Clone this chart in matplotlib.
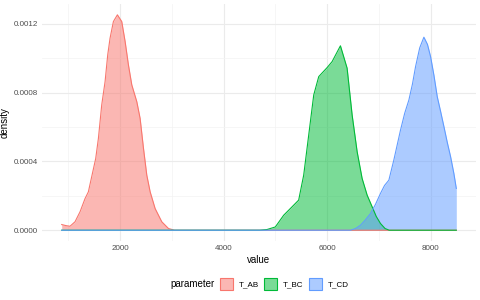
import matplotlib
matplotlib.use("Agg")
import matplotlib.pyplot as plt
from matplotlib.patches import Patch
from matplotlib.colors import to_rgba

plt.rcParams['font.family'] = ['Liberation Sans', 'DejaVu Sans']

# density curves (value, density)
ab_value = [872, 950, 1032, 1129, 1226, 1323, 1387, 1529, 1581, 1645, 1710, 1761,
            1806, 1871, 1948, 2032, 2097, 2161, 2226, 2323, 2387, 2452, 2516, 2581,
            2677, 2806, 2935, 3050, 8497]
ab_density = [0.000033, 0.000027, 0.000023, 0.000049, 0.000107, 0.000184, 0.000223,
              0.000417, 0.000534, 0.000728, 0.000864, 0.001019, 0.001116, 0.001213,
              0.001252, 0.001213, 0.001097, 0.000961, 0.000845, 0.000747, 0.00065,
              0.000476, 0.00032, 0.000223, 0.000126, 0.000049, 0.00001, 0.0, 0.0]

bc_value = [872, 4700, 4839, 5000, 5161, 5323, 5451, 5548, 5645, 5742, 5839, 6000,
            6097, 6258, 6387, 6484, 6581, 6677, 6774, 6871, 6950, 7032, 7120, 7200, 8497]
bc_density = [0.0, 0.0, 0.000004, 0.000019, 0.000087, 0.000136, 0.000175, 0.00032,
              0.000553, 0.000786, 0.000893, 0.000945, 0.00098, 0.001072, 0.000942,
              0.00067, 0.000456, 0.000301, 0.000204, 0.000136, 0.00008, 0.000039,
              0.00001, 0.0, 0.0]

cd_value = [872, 6452, 6550, 6645, 6740, 6839, 6935, 7032, 7110, 7194, 7290, 7419,
            7500, 7581, 7650, 7710, 7790, 7871, 7940, 8000, 8065, 8129, 8194, 8258,
            8323, 8387, 8450, 8497]
cd_density = [0.0, 0.0, 0.00001, 0.000029, 0.00006, 0.000097, 0.00015, 0.000214,
              0.00026, 0.000291, 0.000408, 0.000582, 0.00068, 0.000757, 0.00085,
              0.000951, 0.00106, 0.001122, 0.00108, 0.001009, 0.0009, 0.000776,
              0.00069, 0.000602, 0.00051, 0.000427, 0.00033, 0.000243]

labels = ['T_AB', 'T_BC', 'T_CD']
colors = ['#F8766D', '#00BA38', '#619CFF']
x_ticks = [2000, 4000, 6000, 8000]
y_ticks = [0.0, 0.0004, 0.0008, 0.0012]
y_tick_labels = ['0.0000', '0.0004', '0.0008', '0.0012']
fill_alpha = 0.52

fig = plt.figure(figsize=(4.8, 3.0), dpi=100)
ax = fig.add_axes([0.0875, 0.1967, 0.9042, 0.79])

series = [(ab_value, ab_density), (bc_value, bc_density), (cd_value, cd_density)]
for (xs, ys), col in zip(series, colors):
    ax.fill_between(xs, ys, 0, color=col, alpha=fill_alpha, linewidth=0)
    ax.plot(xs, ys, color=col, linewidth=0.8)

ax.set_xlim(491, 8878)
ax.set_ylim(-0.0000626, 0.001315)
ax.set_xticks(x_ticks)
ax.set_xticks([1000, 3000, 5000, 7000], minor=True)
ax.set_yticks(y_ticks)
ax.set_yticklabels(y_tick_labels)
ax.set_yticks([0.0002, 0.0006, 0.001], minor=True)
ax.grid(True, which='major', color='#EBEBEB', linewidth=0.8)
ax.grid(True, which='minor', color='#F3F3F3', linewidth=0.5)
ax.set_axisbelow(True)
for s in ax.spines.values():
    s.set_visible(False)
ax.tick_params(which='both', length=0, labelsize=5.8, labelcolor='#4D4D4D', pad=3)

ax.set_xlabel('value', fontsize=7, labelpad=2)
ax.set_ylabel('density', fontsize=7, labelpad=3)

handles = [Patch(facecolor=to_rgba(c, fill_alpha), edgecolor=c, linewidth=0.8)
           for c in colors]
fig.legend(handles, labels, ncol=3, loc='center left', bbox_to_anchor=(220 / 480, 0.0533),
           frameon=False, fontsize=5.8, handlelength=1.6, handleheight=1.8,
           handletextpad=0.7, columnspacing=0.7, borderpad=0, borderaxespad=0)
fig.text(215 / 480, 0.0533, 'parameter', ha='right', va='center', fontsize=7)

fig.savefig('out.png', dpi=100)
